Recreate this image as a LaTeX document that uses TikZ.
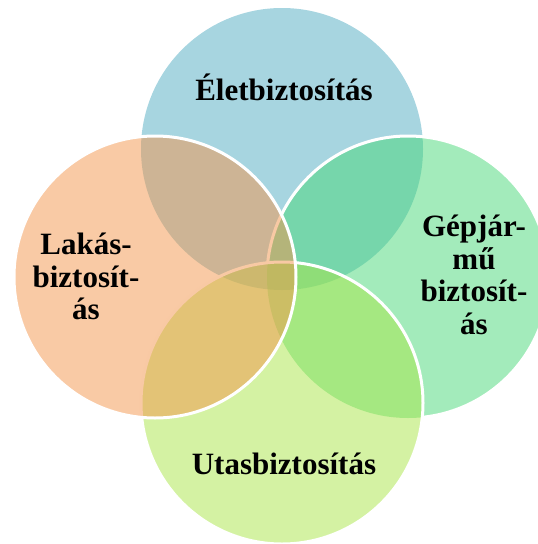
\documentclass[tikz,border=0pt]{standalone}
\usepackage{fontspec}
\setmainfont{Liberation Serif}
\definecolor{cTop}{RGB}{79,171,193}
\definecolor{cLeft}{RGB}{243,149,75}
\definecolor{cRight}{RGB}{71,215,119}
\definecolor{cBottom}{RGB}{169,229,71}
\begin{document}
\begin{tikzpicture}[x=1pt,y=-1pt,
  venn/.style={fill opacity=0.5},
  rim/.style={draw=white, line width=3pt},
  lbl/.style={font=\bfseries\fontsize{31}{32.5}\selectfont, align=center, text=black, inner sep=0pt}]
\useasboundingbox (0,0) rectangle (538,544);
\clip (0,0) rectangle (538,544);
\coordinate (pT) at (282,149);
\coordinate (pL) at (155,277);
\coordinate (pR) at (408,277);
\coordinate (pB) at (282,403);
% top circle
\fill[cTop, venn] (pT) circle (141);
% right circle
\fill[cRight, venn] (pR) circle (141);
\begin{scope}[even odd rule]
  \clip (-20,-20) rectangle (580,580) (pB) circle (141);
  \draw[rim] (pR) circle (141);
\end{scope}
% bottom circle
\fill[cBottom, venn] (pB) circle (141);
\draw[rim] (pB) circle (141);
% left circle
\fill[cLeft, venn] (pL) circle (141);
\draw[rim] (pL) circle (141);
% labels
\node[lbl, anchor=base] (nT) at (284,100.7) {Életbiztosítás};
\node[lbl, anchor=base] (nB) at (284,474.7) {Utasbiztosítás};
\node[lbl, anchor=center] (nL) at (86,276.7) {Lakás-\\biztosít-\\ás};
\node[lbl, anchor=center] (nR) at (474,275) {Gépjár-\\mű\\biztosít-\\ás};
\end{tikzpicture}
\end{document}
